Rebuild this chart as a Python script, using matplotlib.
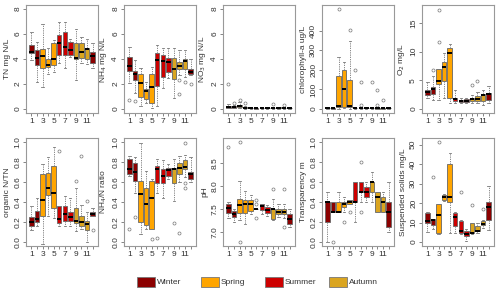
import matplotlib
matplotlib.use("Agg")
import matplotlib.pyplot as plt
from matplotlib.patches import Rectangle

plt.rcParams['font.family'] = ['Liberation Sans', 'DejaVu Sans']
plt.rcParams['font.size'] = 6

months = list(range(1, 13))
seasons = ['Winter', 'Spring', 'Summer', 'Autumn']
season_colors = ['#8B0000', '#FFA500', '#CD0000', '#DAA520']
month_season = [0, 0, 1, 1, 1, 2, 2, 2, 3, 3, 3, 0]

# TN mg N/L
tn_q1 = [4.45, 3.52, 3.31, 3.39, 3.52, 4.32, 4.32, 4.32, 3.97, 4.10, 3.97, 3.65]
tn_med = [4.59, 4.05, 4.24, 3.52, 3.97, 5.25, 4.99, 4.72, 4.10, 4.59, 4.80, 4.24]
tn_q3 = [5.12, 4.72, 4.80, 3.97, 5.25, 5.92, 6.19, 5.33, 5.25, 5.25, 4.85, 4.59]
tn_lo = [3.90, 2.19, 1.79, 2.80, 2.99, 3.65, 3.25, 4.19, 2.32, 3.65, 3.60, 3.25]
tn_hi = [6.13, 5.39, 6.77, 4.90, 5.50, 6.99, 6.99, 5.60, 6.37, 5.79, 5.60, 5.25]
tn_out = [[], [], [], [], [], [], [], [], [], [], [], []]

# NH4 mg N/L
nh4_q1 = [3.04, 2.32, 0.99, 0.77, 0.45, 1.84, 2.59, 2.99, 2.37, 3.20, 3.17, 2.80]
nh4_med = [3.44, 2.80, 2.10, 1.47, 1.79, 3.92, 3.84, 3.73, 3.20, 3.47, 3.84, 2.99]
nh4_q3 = [4.13, 3.07, 2.80, 1.57, 2.80, 4.50, 4.32, 4.05, 4.05, 3.73, 3.97, 3.17]
nh4_lo = [2.05, 1.25, 0.24, 0.45, 0.05, 0.24, 1.65, 2.45, 0.85, 2.70, 2.60, 2.70]
nh4_hi = [4.99, 3.92, 3.25, 2.19, 3.40, 5.12, 4.90, 4.85, 4.85, 4.72, 4.72, 3.97]
nh4_out = [[0.72], [0.64], [], [], [], [], [], [], [], [2.32, 1.20], [2.19], [1.97]]

# NO3 mg N/L
no3_q1 = [0.12, 0.10, 0.18, 0.05, 0.05, 0.04, 0.05, 0.05, 0.05, 0.06, 0.05, 0.05]
no3_med = [0.20, 0.15, 0.25, 0.10, 0.08, 0.06, 0.08, 0.08, 0.08, 0.10, 0.10, 0.08]
no3_q3 = [0.28, 0.22, 0.35, 0.15, 0.10, 0.08, 0.10, 0.10, 0.10, 0.13, 0.12, 0.10]
no3_lo = [0.05, 0.05, 0.10, 0.02, 0.02, 0.02, 0.02, 0.02, 0.02, 0.03, 0.02, 0.02]
no3_hi = [0.40, 0.30, 0.55, 0.25, 0.15, 0.10, 0.12, 0.12, 0.15, 0.18, 0.18, 0.14]
no3_out = [[2.0], [0.5], [0.75], [0.45], [], [], [], [], [0.4], [], [0.3], []]

# chlorophyll-a ug/L
chl_q1 = [3, 2, 12, 8, 12, 3, 3, 3, 3, 2, 2, 3]
chl_med = [5, 3, 15, 104, 15, 5, 5, 5, 5, 3, 3, 5]
chl_q3 = [7, 5, 166, 199, 146, 7, 7, 7, 7, 5, 5, 7]
chl_lo = [1, 1, 2, 3, 2, 1, 1, 1, 1, 1, 1, 1]
chl_hi = [10, 8, 263, 241, 346, 12, 12, 10, 12, 8, 8, 10]
chl_out = [[], [], [510], [], [402], [199], [137, 20], [], [137], [95, 20], [45], []]

# O2 mg/L
o2_q1 = [2.40, 2.69, 4.41, 4.81, 1.83, 1.43, 1.26, 1.26, 1.43, 1.43, 1.43, 1.55]
o2_med = [2.98, 3.55, 4.81, 7.27, 9.67, 1.72, 1.43, 1.43, 1.72, 1.72, 2.40, 2.58]
o2_q3 = [3.38, 3.84, 6.98, 8.13, 10.70, 2.00, 1.55, 1.66, 2.00, 2.23, 2.69, 2.80]
o2_lo = [1.83, 1.55, 1.55, 1.83, 1.09, 0.97, 1.00, 1.09, 1.09, 0.97, 0.69, 0.97]
o2_hi = [4.69, 5.80, 6.98, 9.67, 11.39, 3.26, 1.83, 1.95, 2.40, 2.98, 3.38, 3.95]
o2_out = [[], [6.81], [11.7, 17.3], [], [], [], [], [], [4.12], [4.81], [], []]

# organic N/TN
orgn_q1 = [0.165, 0.198, 0.264, 0.472, 0.340, 0.191, 0.208, 0.208, 0.191, 0.165, 0.125, 0.257]
orgn_med = [0.198, 0.231, 0.422, 0.545, 0.495, 0.234, 0.284, 0.251, 0.208, 0.201, 0.182, 0.280]
orgn_q3 = [0.251, 0.307, 0.677, 0.686, 0.759, 0.356, 0.363, 0.297, 0.340, 0.264, 0.214, 0.297]
orgn_lo = [0.119, 0.158, -0.02, 0.257, 0.241, 0.158, 0.158, 0.158, 0.109, 0.130, 0.000, 0.257]
orgn_hi = [0.356, 0.439, 0.779, 0.851, 0.950, 0.356, 0.462, 0.439, 0.538, 0.373, 0.300, 0.340]
orgn_out = [[], [], [], [], [], [0.911], [], [], [0.614], [0.858], [0.406], [0.119]]

# NH4/N ratio
ratio_q1 = [0.677, 0.610, 0.200, 0.167, 0.127, 0.593, 0.587, 0.660, 0.593, 0.677, 0.727, 0.627]
ratio_med = [0.733, 0.700, 0.477, 0.377, 0.443, 0.727, 0.660, 0.717, 0.727, 0.737, 0.753, 0.677]
ratio_q3 = [0.827, 0.793, 0.610, 0.543, 0.610, 0.760, 0.727, 0.737, 0.743, 0.787, 0.820, 0.700]
ratio_lo = [0.660, 0.493, 0.077, 0.127, 0.127, 0.493, 0.443, 0.627, 0.410, 0.600, 0.650, 0.600]
ratio_hi = [0.860, 0.853, 0.987, 0.710, 0.630, 0.827, 0.817, 0.777, 0.827, 0.860, 0.870, 0.853]
ratio_out = [[0.127], [0.253], [], [], [0.033], [0.043], [], [], [0.187], [0.093], [0.987, 0.593, 0.540], []]

# pH
ph_q1 = [7.41, 7.32, 7.41, 7.41, 7.45, 7.49, 7.48, 7.41, 7.29, 7.40, 7.40, 7.18]
ph_med = [7.53, 7.40, 7.58, 7.61, 7.61, 7.50, 7.57, 7.48, 7.50, 7.43, 7.43, 7.29]
ph_q3 = [7.61, 7.45, 7.72, 7.70, 7.70, 7.51, 7.61, 7.54, 7.50, 7.50, 7.50, 7.40]
ph_lo = [7.31, 7.22, 7.25, 7.18, 7.40, 7.49, 7.40, 7.35, 7.25, 7.33, 7.30, 7.10]
ph_hi = [7.65, 7.50, 8.12, 7.90, 7.81, 7.51, 7.61, 7.59, 7.72, 7.61, 7.61, 7.50]
ph_out = [[8.85], [], [8.96, 6.78], [], [], [7.70, 7.61, 7.31], [], [], [7.94], [], [7.94, 7.11], []]

# Transparency m
tr_q1 = [0.20, 0.30, 0.30, 0.35, 0.38, 0.40, 0.50, 0.45, 0.50, 0.30, 0.30, 0.15]
tr_med = [0.40, 0.30, 0.30, 0.38, 0.40, 0.40, 0.50, 0.50, 0.60, 0.45, 0.40, 0.30]
tr_q3 = [0.40, 0.40, 0.40, 0.40, 0.42, 0.60, 0.60, 0.55, 0.60, 0.50, 0.45, 0.40]
tr_lo = [0.00, 0.30, 0.30, 0.30, 0.38, 0.20, 0.40, 0.40, 0.40, 0.30, 0.30, 0.10]
tr_hi = [0.50, 0.40, 0.50, 0.45, 0.42, 0.60, 0.60, 0.60, 0.70, 0.50, 0.50, 0.60]
tr_out = [[], [0.0], [], [0.2], [0.3], [], [0.8, 0.3], [], [], [], [], []]

# Suspended solids mg/L
ss_q1 = [9.7, 8.9, 4.7, 21.8, 20.7, 8.1, 4.7, 3.0, 4.7, 5.5, 8.9, 11.4]
ss_med = [10.6, 11.1, 13.9, 23.2, 23.2, 12.6, 5.5, 3.9, 4.7, 5.9, 9.4, 17.8]
ss_q3 = [14.8, 11.8, 19.5, 24.0, 40.0, 15.1, 10.6, 5.5, 9.7, 8.1, 10.6, 20.7]
ss_lo = [5.0, 6.7, 4.0, 21.2, 4.7, 4.7, 4.0, 0.5, 3.9, 4.7, 7.2, 6.4]
ss_hi = [15.6, 11.8, 19.5, 24.9, 45.9, 15.6, 11.4, 6.5, 9.7, 9.7, 11.4, 29.0]
ss_out = [[], [33.3], [51.4], [], [], [], [25.7], [], [19.0], [], [16.8], []]

panels = [
    ('TN mg N/L', tn_q1, tn_med, tn_q3, tn_lo, tn_hi, tn_out, (0, 8), [0, 2, 4, 6, 8], '%d'),
    ('NH$_4$ mg N/L', nh4_q1, nh4_med, nh4_q3, nh4_lo, nh4_hi, nh4_out, (0, 8), [0, 2, 4, 6, 8], '%d'),
    ('NO$_3$ mg N/L', no3_q1, no3_med, no3_q3, no3_lo, no3_hi, no3_out, (0, 8), [0, 2, 4, 6, 8], '%d'),
    ('chlorophyll-a ug/L', chl_q1, chl_med, chl_q3, chl_lo, chl_hi, chl_out, (0, 510), [0, 100, 200, 300, 400], '%d'),
    ('O$_2$ mg/L', o2_q1, o2_med, o2_q3, o2_lo, o2_hi, o2_out, (0, 17.4), [0, 5, 10, 15], '%d'),
    ('organic N/TN', orgn_q1, orgn_med, orgn_q3, orgn_lo, orgn_hi, orgn_out, (0, 1), [0.0, 0.2, 0.4, 0.6, 0.8, 1.0], '%.1f'),
    ('NH$_4$/N ratio', ratio_q1, ratio_med, ratio_q3, ratio_lo, ratio_hi, ratio_out, (0, 1), [0.0, 0.2, 0.4, 0.6, 0.8, 1.0], '%.1f'),
    ('pH', ph_q1, ph_med, ph_q3, ph_lo, ph_hi, ph_out, (6.78, 8.96), [7.0, 7.5, 8.0, 8.5], '%.1f'),
    ('Transparency m', tr_q1, tr_med, tr_q3, tr_lo, tr_hi, tr_out, (0, 1), [0.0, 0.2, 0.4, 0.6, 0.8, 1.0], '%.1f'),
    ('Suspended solids mg/L', ss_q1, ss_med, ss_q3, ss_lo, ss_hi, ss_out, (0, 51.4), [0, 10, 20, 30, 40, 50], '%d'),
]

W, H = 500, 291
fig = plt.figure(figsize=(W / 100, H / 100), dpi=100)

frame_col = '#999999'
text_col = '#333333'
col_left = [26, 124, 223, 322, 422]
row_top = [5, 138]
pw, ph = 72, 108

for i, (label, q1, med, q3, lo, hi, out, lim, yt, fmt) in enumerate(panels):
    r, c = divmod(i, 5)
    ax = fig.add_axes([col_left[c] / W, 1 - (row_top[r] + ph) / H, pw / W, ph / H])
    stats = []
    for k in range(12):
        stats.append(dict(q1=q1[k], med=med[k], q3=q3[k], whislo=lo[k], whishi=hi[k], fliers=out[k]))
    bp = ax.bxp(stats, positions=months, widths=0.8, capwidths=0.4, patch_artist=True,
                boxprops=dict(edgecolor='#666666', linewidth=0.6),
                whiskerprops=dict(color='#777777', linewidth=0.6, linestyle=(0, (1.5, 1.2))),
                capprops=dict(color='#777777', linewidth=0.6),
                medianprops=dict(color='black', linewidth=1.4, solid_capstyle='butt'),
                flierprops=dict(marker='o', markerfacecolor='none', markeredgecolor='#777777',
                                markersize=2.2, markeredgewidth=0.5))
    for k, b in enumerate(bp['boxes']):
        b.set_facecolor(season_colors[month_season[k]])
    pad = (lim[1] - lim[0]) * 0.04
    ax.set_ylim(lim[0] - pad, lim[1] + pad)
    ax.set_xlim(0.02, 12.98)
    ax.set_xticks(months)
    ax.set_xticklabels([str(m) if m % 2 == 1 else '' for m in months])
    ax.set_yticks(yt)
    ax.set_yticklabels([fmt % v for v in yt], rotation=90, va='center')
    ax.tick_params(axis='both', length=2, width=0.5, color='#555555', labelsize=6,
                   labelcolor=text_col, pad=1.5)
    for s in ax.spines.values():
        s.set_color(frame_col)
        s.set_linewidth(0.8)
    ax.set_ylabel(label, fontsize=6, color=text_col, labelpad=2)

# legend
for j, name in enumerate(seasons):
    x0 = 137 + j * 64
    fig.patches.append(Rectangle((x0 / W, 1 - 287 / H), 18 / W, 10 / H, transform=fig.transFigure,
                                 facecolor=season_colors[j], edgecolor='#777777', linewidth=0.6))
    fig.text((x0 + 20) / W, 1 - 282 / H, name, fontsize=6, color=text_col, va='center', ha='left')

fig.savefig('out.png', dpi=100)
